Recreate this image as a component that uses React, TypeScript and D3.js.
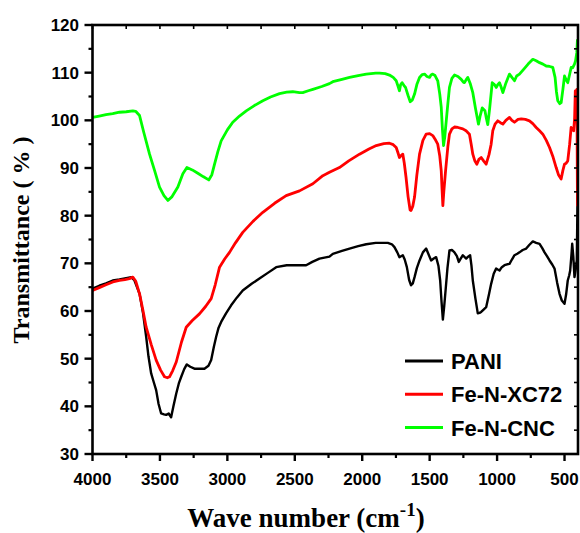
import React from "react";
import * as d3 from "d3";

const seriesNames = ["PANI", "Fe-N-XC72", "Fe-N-CNC"];
const seriesColors = ["#000000", "#ff0000", "#00ff00"];

const xTicks = [4000, 3500, 3000, 2500, 2000, 1500, 1000, 500];
const yTicks = [30, 40, 50, 60, 70, 80, 90, 100, 110, 120];

const paniData: [number, number][] = [
  [4000, 64.7], [3950, 65.3], [3900, 65.8], [3850, 66.4], [3800, 66.6], [3750, 66.9], [3713, 67.1], [3690, 66.5],
  [3651, 63.6], [3625, 59.5], [3602, 54.6], [3585, 50.5], [3565, 46.9], [3545, 45.0], [3528, 43.4], [3510, 40.5],
  [3491, 38.5], [3470, 38.3], [3454, 38.2], [3435, 38.5], [3417, 37.7], [3400, 40.0], [3379, 42.7], [3360, 44.8],
  [3342, 46.2], [3320, 47.8], [3301, 48.8], [3275, 48.3], [3244, 47.9], [3210, 47.9], [3170, 47.9], [3140, 48.5],
  [3120, 49.7], [3100, 52.5], [3083, 54.6], [3065, 56.5], [3046, 57.7], [3010, 59.5], [2972, 61.2], [2930, 62.8],
  [2886, 64.3], [2820, 65.7], [2762, 66.8], [2700, 68.0], [2638, 69.2], [2560, 69.6], [2490, 69.6], [2416, 69.6],
  [2370, 70.3], [2317, 71.0], [2243, 71.4], [2218, 72.0], [2150, 72.6], [2094, 73.1], [2030, 73.6], [1970, 74.0],
  [1900, 74.3], [1872, 74.3], [1810, 74.3], [1780, 74.0], [1761, 73.4], [1740, 72.3], [1724, 71.3], [1712, 71.5],
  [1699, 71.7], [1685, 70.8], [1669, 69.2], [1652, 66.5], [1638, 65.4], [1625, 65.8], [1612, 67.1], [1595, 69.0],
  [1575, 70.6], [1550, 72.3], [1526, 73.1], [1510, 72.0], [1489, 70.6], [1470, 71.0], [1452, 71.3], [1435, 69.5],
  [1422, 66.4], [1412, 62.0], [1402, 58.2], [1392, 61.0], [1382, 64.3], [1368, 69.0], [1353, 72.7], [1335, 72.8],
  [1316, 72.3], [1298, 71.5], [1284, 70.3], [1270, 71.0], [1254, 71.7], [1240, 71.3], [1229, 71.0], [1215, 71.4],
  [1200, 71.7], [1190, 69.5], [1180, 66.4], [1160, 62.5], [1143, 59.5], [1130, 59.6], [1118, 59.8], [1100, 60.3],
  [1081, 60.8], [1060, 63.5], [1044, 65.7], [1025, 67.8], [1007, 68.9], [995, 68.7], [982, 68.5], [965, 69.2],
  [945, 69.6], [925, 69.8], [908, 69.9], [890, 70.8], [871, 71.7], [850, 72.0], [834, 72.3], [810, 72.8],
  [784, 73.1], [760, 73.9], [735, 74.6], [710, 74.3], [685, 74.1], [665, 73.2], [648, 72.3], [630, 71.5],
  [611, 70.6], [590, 69.7], [574, 68.9], [555, 66.0], [537, 63.6], [520, 62.2], [500, 61.5], [488, 63.5],
  [476, 66.4], [465, 67.5], [458, 68.5], [448, 72.0], [443, 74.1], [435, 71.5], [426, 67.1], [418, 68.5],
  [409, 70.6], [404, 82.0],
];

const xc72Data: [number, number][] = [
  [4000, 64.3], [3950, 64.9], [3900, 65.5], [3849, 66.1], [3800, 66.4], [3760, 66.6], [3726, 66.8], [3701, 67.1],
  [3680, 66.3], [3651, 63.6], [3625, 60.0], [3602, 56.6], [3565, 53.0], [3528, 49.7], [3495, 47.6], [3466, 46.2],
  [3445, 46.0], [3429, 46.2], [3405, 47.5], [3379, 49.3], [3340, 53.5], [3305, 56.6], [3260, 58.0], [3207, 59.4],
  [3160, 61.0], [3120, 62.6], [3090, 65.5], [3058, 69.2], [3020, 70.9], [2984, 72.3], [2940, 74.3], [2886, 76.5],
  [2810, 78.8], [2737, 80.7], [2650, 82.6], [2564, 84.2], [2465, 85.2], [2366, 86.7], [2292, 88.4], [2243, 89.1],
  [2169, 90.1], [2100, 91.5], [2020, 92.9], [1950, 94.0], [1896, 94.7], [1840, 95.1], [1798, 95.2], [1770, 94.9],
  [1748, 94.3], [1735, 93.2], [1724, 92.2], [1712, 92.6], [1699, 92.9], [1688, 91.0], [1675, 88.0], [1660, 84.0],
  [1645, 81.2], [1638, 81.1], [1625, 82.0], [1612, 83.9], [1595, 88.5], [1575, 92.9], [1550, 95.8], [1526, 97.1],
  [1500, 97.2], [1477, 96.8], [1455, 95.8], [1440, 95.0], [1425, 92.5], [1414, 89.4], [1408, 85.5], [1402, 82.1],
  [1395, 85.0], [1382, 89.4], [1365, 94.5], [1353, 97.1], [1335, 98.2], [1316, 98.6], [1290, 98.5], [1254, 98.2],
  [1230, 97.8], [1205, 97.1], [1192, 95.0], [1180, 92.9], [1165, 91.5], [1150, 90.8], [1135, 91.8], [1118, 92.2],
  [1100, 91.5], [1081, 90.8], [1060, 92.8], [1044, 95.0], [1032, 97.8], [1015, 99.2], [995, 99.9], [975, 99.5],
  [957, 99.2], [935, 100.0], [908, 100.6], [890, 100.0], [871, 99.6], [845, 100.2], [821, 100.3], [790, 100.2],
  [760, 99.9], [735, 99.3], [710, 98.5], [685, 97.8], [661, 97.1], [635, 95.8], [611, 94.3], [585, 92.3],
  [562, 90.1], [545, 88.6], [525, 87.7], [512, 89.5], [500, 90.8], [488, 91.0], [476, 91.5], [462, 95.0],
  [451, 98.5], [440, 98.0], [432, 97.8], [425, 100.5], [420, 106.2], [414, 100.0], [408, 106.5], [404, 82.0],
];

const cncData: [number, number][] = [
  [4000, 100.6], [3950, 100.9], [3900, 101.2], [3850, 101.4], [3800, 101.7], [3750, 101.8], [3701, 102.0], [3680, 101.9],
  [3651, 101.0], [3620, 97.5], [3577, 92.9], [3540, 89.5], [3503, 86.0], [3470, 84.2], [3441, 83.2], [3410, 84.0],
  [3367, 86.0], [3330, 88.8], [3300, 90.1], [3260, 89.6], [3219, 88.9], [3180, 88.2], [3138, 87.5], [3115, 88.6],
  [3095, 90.8], [3070, 93.5], [3046, 95.7], [3000, 98.0], [2960, 99.6], [2910, 100.9], [2860, 102.0], [2800, 103.1],
  [2737, 104.1], [2680, 104.9], [2613, 105.6], [2560, 105.9], [2515, 106.0], [2465, 105.8], [2441, 105.8], [2400, 106.2],
  [2366, 106.5], [2300, 107.1], [2243, 107.7], [2218, 108.1], [2150, 108.6], [2094, 109.0], [2030, 109.4], [1970, 109.7],
  [1900, 109.9], [1872, 109.9], [1830, 109.8], [1798, 109.5], [1770, 109.0], [1748, 108.3], [1735, 107.2], [1724, 106.2],
  [1715, 107.5], [1704, 107.9], [1690, 107.3], [1679, 106.9], [1660, 105.2], [1644, 103.9], [1628, 104.3], [1612, 105.5],
  [1595, 107.5], [1575, 109.0], [1555, 109.6], [1538, 109.7], [1520, 109.2], [1501, 109.0], [1490, 109.5], [1477, 109.7],
  [1460, 109.4], [1440, 108.3], [1425, 105.5], [1414, 102.7], [1405, 98.0], [1397, 94.7], [1388, 96.5], [1377, 99.9],
  [1365, 103.5], [1353, 106.9], [1335, 108.8], [1316, 109.5], [1290, 109.2], [1266, 108.6], [1250, 108.0], [1242, 107.9],
  [1230, 108.5], [1217, 109.0], [1200, 107.8], [1180, 105.8], [1160, 102.5], [1138, 99.2], [1125, 101.0], [1110, 102.6],
  [1090, 102.0], [1080, 100.5], [1069, 99.1], [1055, 102.5], [1036, 107.9], [1020, 107.5], [1006, 106.9], [995, 107.5],
  [982, 107.9], [970, 107.0], [957, 105.8], [935, 107.8], [908, 109.7], [890, 109.0], [871, 108.3], [855, 109.3],
  [834, 109.7], [800, 110.8], [770, 111.8], [735, 112.8], [710, 112.5], [685, 112.1], [660, 111.8], [636, 111.4],
  [610, 111.3], [587, 111.1], [570, 109.0], [560, 106.0], [550, 104.1], [535, 103.5], [525, 103.7], [512, 106.5],
  [500, 109.3], [488, 108.5], [476, 107.9], [463, 109.5], [451, 111.1], [440, 111.0], [426, 111.8], [418, 112.5],
  [409, 114.2], [404, 117.0],
];

const allData = [paniData, xc72Data, cncData];

const W = 580;
const H = 533;
const left = 92.5;
const right = 578;
const top = 25;
const bottom = 454;

export default function App() {
  const x = d3.scaleLinear().domain([4000, 400]).range([left, right]);
  const y = d3.scaleLinear().domain([30, 120]).range([bottom, top]);
  const line = d3
    .line<[number, number]>()
    .x((d) => x(d[0]))
    .y((d) => y(d[1]))
    .curve(d3.curveLinear);

  const xMinor = d3.range(3750, 400, -500);
  const xAll = d3.range(4000, 400, -250);
  const yMinor = d3.range(35, 120, 10);
  const yAll = d3.range(30, 121, 5);

  const sans = "'Liberation Sans', Arial, sans-serif";
  const serif = "'Liberation Serif', 'Times New Roman', serif";

  return (
    <svg width={W} height={H} style={{ position: "absolute", left: 0, top: 0, background: "#fff" }}>
      <defs>
        <clipPath id="plotClip">
          <rect x={left} y={top - 10} width={right - left} height={bottom - top + 10} />
        </clipPath>
      </defs>
      <rect x={0} y={0} width={W} height={H} fill="#fff" />
      <g clipPath="url(#plotClip)">
        {allData.map((d, i) => (
          <path key={i} d={line(d) || ""} fill="none" stroke={seriesColors[i]} strokeWidth={i === 0 ? 2.4 : 2.8} strokeLinejoin="round" />
        ))}
      </g>
      <rect x={left} y={top} width={right - left} height={bottom - top} fill="none" stroke="#000" strokeWidth={2.6} />
      {xTicks.map((t) => (
        <line key={"xb" + t} x1={x(t)} x2={x(t)} y1={bottom} y2={bottom + 7} stroke="#000" strokeWidth={2.4} />
      ))}
      {xMinor.map((t) => (
        <line key={"xm" + t} x1={x(t)} x2={x(t)} y1={bottom} y2={bottom + 4} stroke="#000" strokeWidth={2.2} />
      ))}
      {xAll.map((t) => (
        <line key={"xt" + t} x1={x(t)} x2={x(t)} y1={top} y2={top + 4} stroke="#000" strokeWidth={1.6} />
      ))}
      {yTicks.map((t) => (
        <line key={"yl" + t} x1={left - 8} x2={left} y1={y(t)} y2={y(t)} stroke="#000" strokeWidth={2.4} />
      ))}
      {yMinor.map((t) => (
        <line key={"ym" + t} x1={left - 4} x2={left} y1={y(t)} y2={y(t)} stroke="#000" strokeWidth={2.2} />
      ))}
      {yAll.map((t) => (
        <line key={"yr" + t} x1={right - 4} x2={right} y1={y(t)} y2={y(t)} stroke="#000" strokeWidth={1.6} />
      ))}
      {xTicks.map((t) => (
        <text key={"xl" + t} x={x(t)} y={485} textAnchor="middle" fontFamily={sans} fontWeight="bold" fontSize={17} fill="#000">
          {t}
        </text>
      ))}
      {yTicks.map((t) => (
        <text key={"yt" + t} x={79} y={y(t)} dy="0.35em" textAnchor="end" fontFamily={sans} fontWeight="bold" fontSize={17} fill="#000">
          {t}
        </text>
      ))}
      <text x={306} y={527} textAnchor="middle" fontFamily={serif} fontWeight="bold" fontSize={27} fill="#000">
        Wave number (cm<tspan dy={-11} fontSize={19}>-1</tspan><tspan dy={11}>)</tspan>
      </text>
      <text
        transform={`translate(29, 240) rotate(-90)`}
        textAnchor="middle"
        fontFamily={serif}
        fontWeight="bold"
        fontSize={24}
        fill="#000"
      >
        Transmittance ( % )
      </text>
      {seriesNames.map((n, i) => (
        <g key={n}>
          <line x1={405} x2={443} y1={361 + i * 33.3} y2={361 + i * 33.3} stroke={seriesColors[i]} strokeWidth={3} />
          <text x={451} y={361 + i * 33.3} dy="0.36em" fontFamily={sans} fontWeight="bold" fontSize={22} fill="#000">
            {n}
          </text>
        </g>
      ))}
    </svg>
  );
}
